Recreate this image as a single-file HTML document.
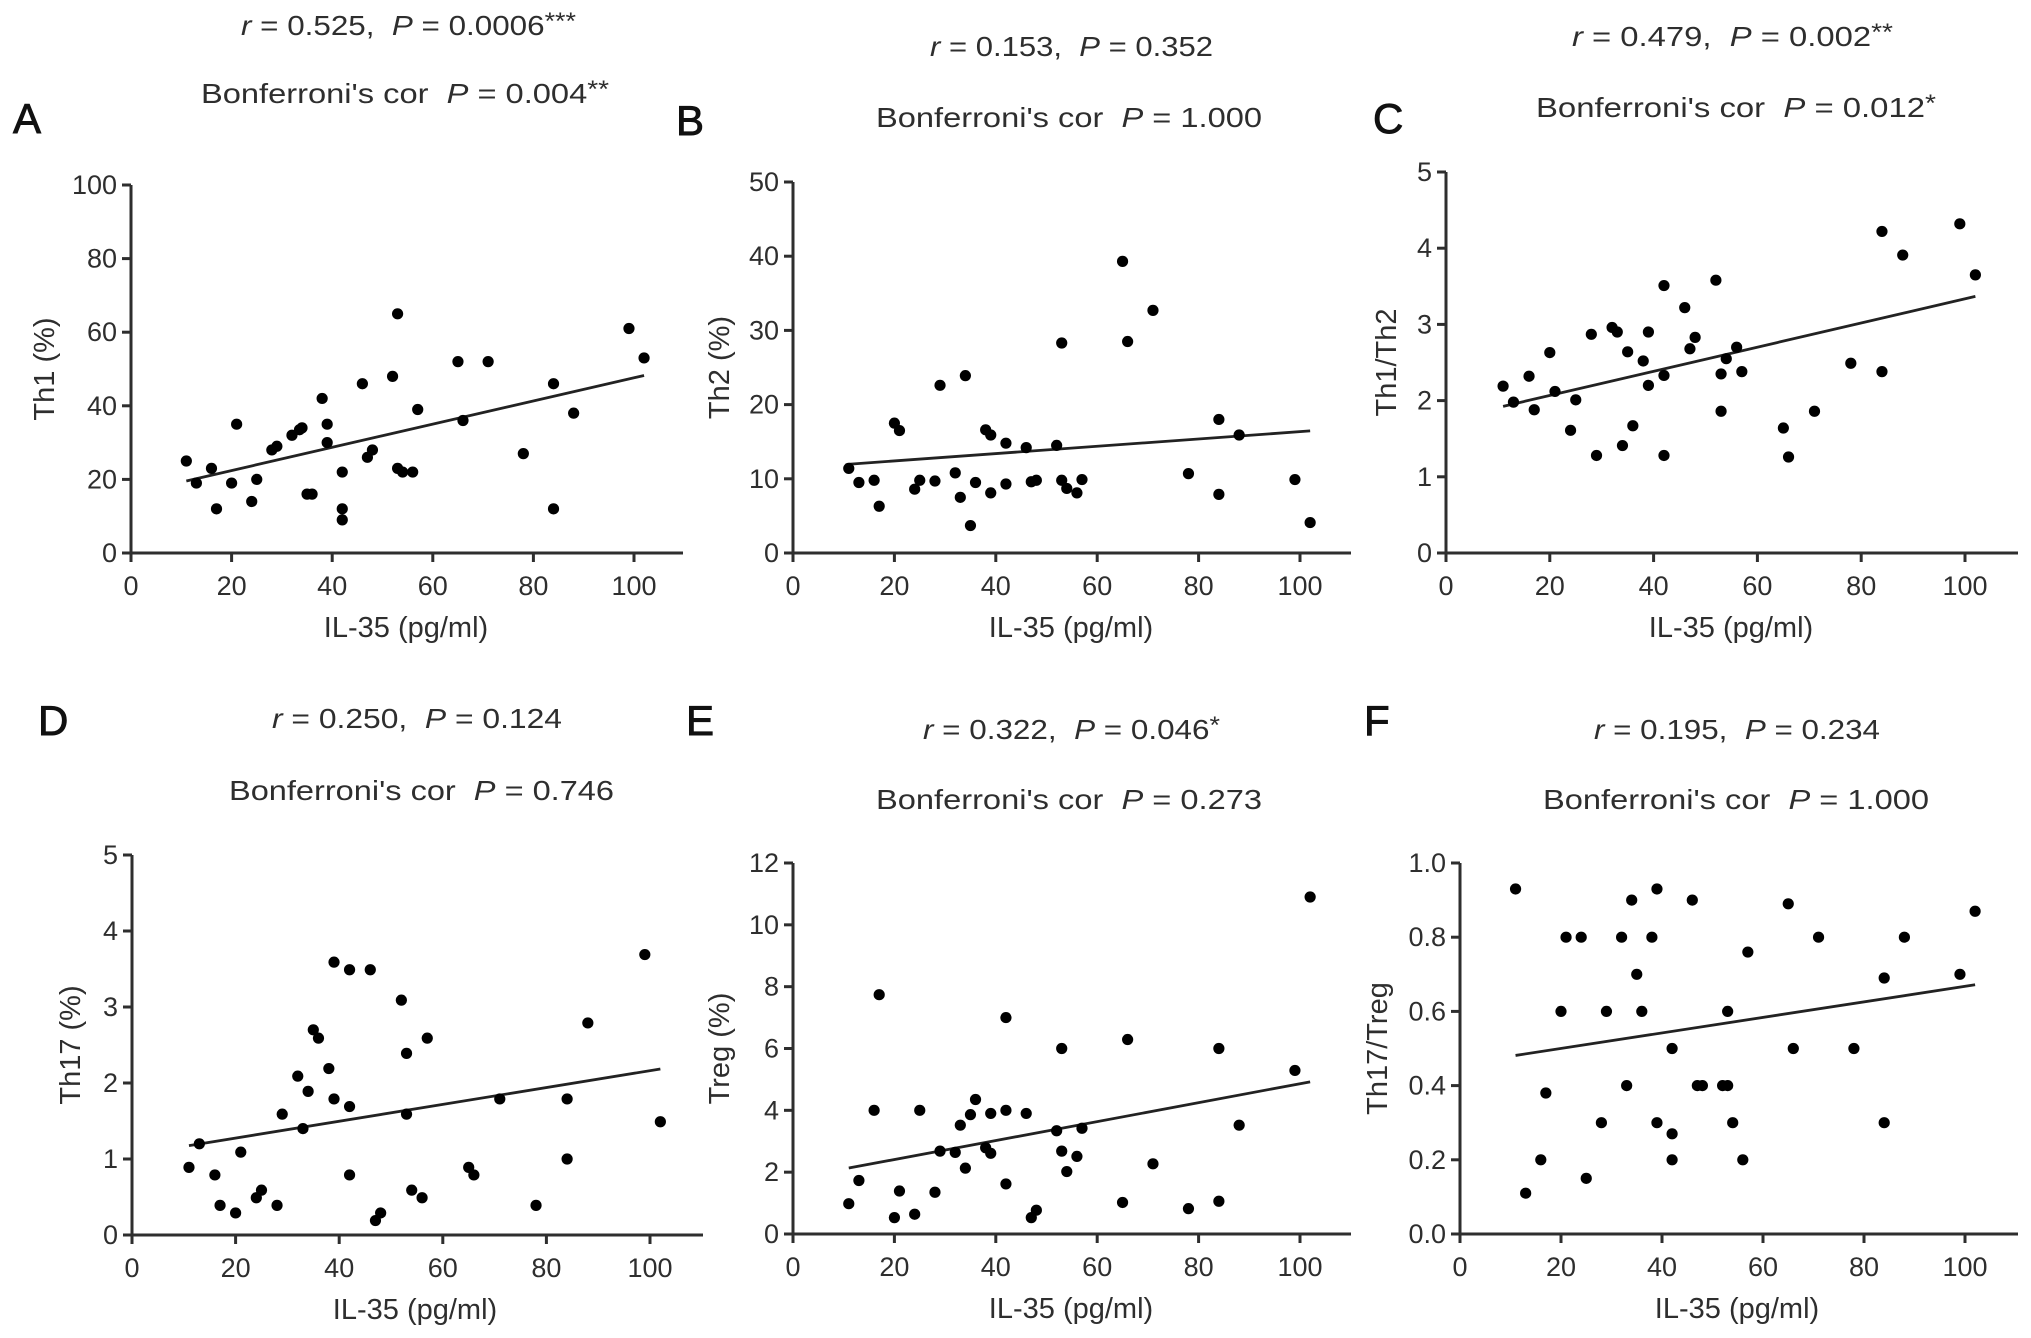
<!DOCTYPE html>
<html><head><meta charset="utf-8"><style>
html,body{margin:0;padding:0;background:#fff;}
svg{display:block;font-family:"Liberation Sans",Arial,sans-serif;}
</style></head><body>
<svg id="fig" width="2031" height="1338" viewBox="0 0 2031 1338" xmlns="http://www.w3.org/2000/svg"></svg>
<script>
// ---- data ----
const xA=[11,13,16,17,20,21,24,25,28,29,32,33.5,34,35,36,38,39,39,42,42,42,46,47,48,52,53,53,54,56,57,65,66,71,78,84,84,88,99,102];
const yA=[25,19,23,12,19,35,14,20,28,29,32,33.5,34,16,16,42,35,30,22,12,9,46,26,28,48,65,23,22,22,39,52,36,52,27,46,12,38,61,53];
const xB=[11,13,16,17,20,21,24,25,28,29,32,33,34,35,36,38,39,39,42,42,46,47,48,52,53,53,54,56,57,65,66,71,78,84,84,88,99,102];
const yB=[11.4,9.5,9.8,6.3,17.5,16.5,8.6,9.8,9.7,22.6,10.8,7.5,23.9,3.7,9.5,16.6,15.9,8.1,14.8,9.3,14.2,9.6,9.8,14.5,28.3,9.8,8.7,8.1,9.9,39.3,28.5,32.7,10.7,18,7.9,15.9,9.9,4.1];
const xC=[11,13,16,17,20,21,24,25,28,29,32,33,34,35,36,38,39,39,42,42,42,46,47,48,52,53,53,54,56,57,65,66,71,78,84,84,88,99,102];
const yC=[2.19,1.98,2.32,1.88,2.63,2.12,1.61,2.01,2.87,1.28,2.96,2.9,1.41,2.64,1.67,2.52,2.9,2.2,3.51,2.33,1.28,3.22,2.68,2.83,3.58,2.35,1.86,2.55,2.7,2.38,1.64,1.26,1.86,2.49,4.22,2.38,3.91,4.32,3.65];
const xD=[11,13,16,17,20,21,24,25,28,29,32,33,34,35,36,38,39,39,42,42,42,46,47,48,52,53,53,54,56,57,65,66,71,78,84,84,88,99,102];
const yD=[0.89,1.2,0.79,0.39,0.29,1.09,0.49,0.59,0.39,1.59,2.09,1.4,1.89,2.7,2.59,2.19,3.59,1.79,3.49,1.69,0.79,3.49,0.19,0.29,3.09,2.39,1.59,0.59,0.49,2.59,0.89,0.79,1.79,0.39,1.79,1.0,2.79,3.69,1.49];
const xE=[11,13,16,17,20,21,24,25,28,29,32,33,34,35,36,38,39,39,42,42,42,46,47,48,52,53,53,54,56,57,65,66,71,78,84,84,88,99,102];
const yE=[0.98,1.73,4.0,7.74,0.53,1.39,0.64,4.0,1.35,2.68,2.64,3.52,2.13,3.86,4.35,2.79,3.9,2.61,7.0,4.0,1.62,3.9,0.53,0.77,3.34,6.0,2.68,2.02,2.51,3.42,1.02,6.29,2.27,0.82,6.0,1.06,3.52,5.29,10.9];
const xF=[11,13,16,17,20,21,24,25,28,29,32,33,34,35,36,38,39,39,42,42,42,46,47,48,52,53,53,54,56,57,65,66,71,78,84,84,88,99,102];
const yF=[0.93,0.11,0.2,0.38,0.6,0.8,0.8,0.15,0.3,0.6,0.8,0.4,0.9,0.7,0.6,0.8,0.93,0.3,0.5,0.27,0.2,0.9,0.4,0.4,0.4,0.6,0.4,0.3,0.2,0.76,0.89,0.5,0.8,0.5,0.69,0.3,0.8,0.7,0.87];
const xTicks=[0,20,40,60,80,100];
const yTicksA=[0,20,40,60,80,100];
const yTicksB=[0,10,20,30,40,50];
const yTicksC=[0,1,2,3,4,5];
const yTicksD=[0,1,2,3,4,5];
const yTicksE=[0,2,4,6,8,10,12];
const yTicksF=[0.0,0.2,0.4,0.6,0.8,1.0];
const yLabelsF=["0.0","0.2","0.4","0.6","0.8","1.0"];

const NS="http://www.w3.org/2000/svg";
const svg=document.getElementById('fig');
function mk(tag,attrs,parent){const e=document.createElementNS(NS,tag);for(const k in attrs)e.setAttribute(k,attrs[k]);(parent||svg).appendChild(e);return e;}

const panels=[
 {id:'a',L:'A',xs:xA,ys:yA,ticks:yTicksA,ymax:100,ax:131,x100:634,xend:683,ytop:185,y0:553,ytitle:'Th1 (%)',ytx:45,xtx:406,lx:13,ly:118,
  r:['0.525','0.0006','***'],rX:241,rY:25,rW:335,b:['0.004','**'],bX:201,bY:93,bW:408},
 {id:'b',L:'B',xs:xB,ys:yB,ticks:yTicksB,ymax:50,ax:793,x100:1300,xend:1351,ytop:182,y0:553,ytitle:'Th2 (%)',ytx:720,xtx:1071,lx:676,ly:120,
  r:['0.153','0.352',''],rX:930,rY:46,rW:283,b:['1.000',''],bX:876,bY:117,bW:386},
 {id:'c',L:'C',xs:xC,ys:yC,ticks:yTicksC,ymax:5,ax:1446,x100:1965,xend:2018,ytop:172,y0:553,ytitle:'Th1/Th2',ytx:1387,xtx:1731,lx:1373,ly:118,
  r:['0.479','0.002','**'],rX:1572,rY:36,rW:321,b:['0.012','*'],bX:1536,bY:107,bW:400},
 {id:'d',L:'D',xs:xD,ys:yD,ticks:yTicksD,ymax:5,ax:132,x100:650,xend:703,ytop:855,y0:1235,ytitle:'Th17 (%)',ytx:71,xtx:415,lx:38,ly:720,
  r:['0.250','0.124',''],rX:272,rY:718,rW:290,b:['0.746',''],bX:229,bY:790,bW:385},
 {id:'e',L:'E',xs:xE,ys:yE,ticks:yTicksE,ymax:12,ax:793,x100:1300,xend:1351,ytop:863,y0:1234,ytitle:'Treg (%)',ytx:720,xtx:1071,lx:686,ly:720,
  r:['0.322','0.046','*'],rX:923,rY:729,rW:297,b:['0.273',''],bX:876,bY:799,bW:386},
 {id:'f',L:'F',xs:xF,ys:yF,ticks:yTicksF,labels:yLabelsF,ymax:1,ax:1460,x100:1965,xend:2018,ytop:863,y0:1234,ytitle:'Th17/Treg',ytx:1378,xtx:1737,lx:1364,ly:720,
  r:['0.195','0.234',''],rX:1594,rY:729,rW:286,b:['1.000',''],bX:1543,bY:799,bW:386}
];

const C='#2e2e2e';
const SP='\u00a0';
panels.forEach(p=>{
  const g=mk('g',{});
  
  
  const X=v=>p.ax+(p.x100-p.ax)*v/100;
  const Y=v=>p.y0-(p.y0-p.ytop)*v/p.ymax;
  const lt=mk('text',{x:p.lx,y:p.ly+15,'font-size':42,fill:'#111',stroke:'#111','stroke-width':0.9},g);lt.textContent=p.L;
  
  
  const rt=mk('text',{x:p.rX,y:p.rY+10,'font-size':28,fill:C,textLength:p.rW,lengthAdjust:'spacingAndGlyphs'},g);
  
  
  rt.innerHTML='<tspan font-style="italic">r</tspan> = '+p.r[0]+','+SP+SP+'<tspan font-style="italic">P</tspan> = '+p.r[1]+(p.r[2]?'<tspan font-size="24" dy="-6">'+p.r[2]+'</tspan>':'');
  const bt=mk('text',{x:p.bX,y:p.bY+10,'font-size':28,fill:C,textLength:p.bW,lengthAdjust:'spacingAndGlyphs'},g);
  
  
  bt.innerHTML="Bonferroni's cor"+SP+SP+"<tspan font-style=\"italic\">P</tspan> = "+p.b[0]+(p.b[1]?'<tspan font-size="24" dy="-6">'+p.b[1]+'</tspan>':'');
  const ya=mk('line',{x1:p.ax,y1:p.ytop,x2:p.ax,y2:p.y0+9,stroke:C,'stroke-width':3},g);
  
  
  const xa=mk('line',{x1:p.ax-9,y1:p.y0,x2:p.xend,y2:p.y0,stroke:C,'stroke-width':3},g);
  
  
  p.ticks.forEach((t,i)=>{
    const y=Y(t);
    mk('line',{x1:p.ax-9,y1:y,x2:p.ax,y2:y,stroke:C,'stroke-width':3},g);
    const tl=mk('text',{x:p.ax-14,y:y+9,'font-size':27,fill:C,'text-anchor':'end'},g);
    tl.textContent=p.labels?p.labels[i]:String(t);
    
    
  });
  xTicks.forEach(t=>{
    const x=X(t);
    mk('line',{x1:x,y1:p.y0,x2:x,y2:p.y0+9,stroke:C,'stroke-width':3},g);
    const tl=mk('text',{x:x,y:p.y0+42,'font-size':27,fill:C,'text-anchor':'middle'},g);
    tl.textContent=String(t);
    
    
  });
  const xt=mk('text',{x:p.xtx,y:p.y0+84,'font-size':29,fill:C,'text-anchor':'middle'},g);
  xt.textContent='IL-35 (pg/ml)';
  
  
  const ym=(p.ytop+p.y0)/2;
  const yt=mk('text',{x:p.ytx,y:ym,'font-size':29,fill:C,'text-anchor':'middle','dominant-baseline':'central',transform:'rotate(-90 '+p.ytx+' '+ym+')'},g);
  yt.textContent=p.ytitle;
  
  
  const n=p.xs.length;let sx=0,sy=0,sxx=0,sxy=0,mn=Infinity,mx=-Infinity;
  for(let i=0;i<n;i++){sx+=p.xs[i];sy+=p.ys[i];sxx+=p.xs[i]*p.xs[i];sxy+=p.xs[i]*p.ys[i];mn=Math.min(mn,p.xs[i]);mx=Math.max(mx,p.xs[i]);}
  const slope=(n*sxy-sx*sy)/(n*sxx-sx*sx);const ic=(sy-slope*sx)/n;
  const rl=mk('line',{x1:X(mn),y1:Y(ic+slope*mn),x2:X(mx),y2:Y(ic+slope*mx),stroke:'#222','stroke-width':2.8},g);
  
  
  for(let i=0;i<n;i++){
    const c=mk('circle',{cx:X(p.xs[i]),cy:Y(p.ys[i]),r:5.6,fill:'#000'},g);
    
    
  }
});
</script>
</body></html>
